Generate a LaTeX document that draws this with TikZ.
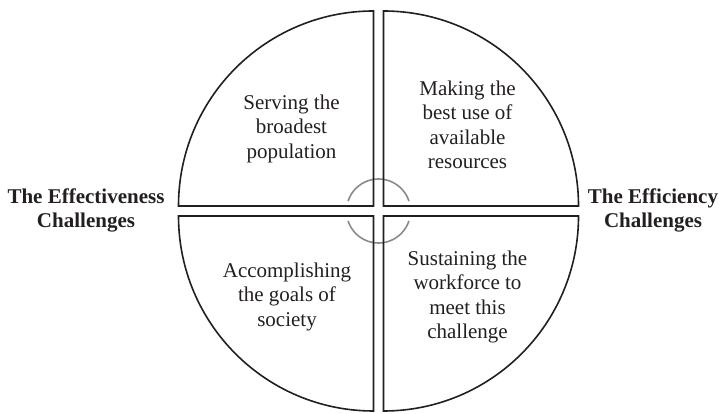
\documentclass[tikz,border=0pt]{standalone}
\usepackage{fontspec}
\setmainfont{Liberation Serif}
\usetikzlibrary{math}
\usetikzlibrary{calc}
\definecolor{inkgray}{HTML}{231F20}
\definecolor{ringgray}{HTML}{8A8A8A}

\begin{document}
\begin{tikzpicture}[x=1pt,y=1pt,line width=1.6pt,
  quarter/.style={draw=inkgray,line join=miter},
  blocktext/.style={align=center,text=inkgray,font=\fontsize{21}{24.5}\selectfont},
  sidetext/.style={align=center,text=inkgray,font=\fontsize{21}{24}\selectfont\bfseries}]

  \tikzmath{
    \radius = 195;   % radius of each quarter
    \gap    = 5;     % half width of the cross between the quarters
    \ring   = 32;    % radius of the gray arcs
    \degs   = 18;    % where the gray arcs start
    \cx     = 378.5; % centre of the circle
    \cy     = 203;
  }

  \useasboundingbox (0,0) rectangle (719,414);

  % corners of the four quarters
  \coordinate (O)  at (\cx, \cy);
  \coordinate (NE) at (\cx+\gap, \cy+\gap);
  \coordinate (NW) at (\cx-\gap, \cy+\gap);
  \coordinate (SW) at (\cx-\gap, \cy-\gap);
  \coordinate (SE) at (\cx+\gap, \cy-\gap);

  % gray arcs round the centre
  \draw[ringgray] ($ (O) + (\degs:\ring) $) arc (\degs:180-\degs:\ring);
  \draw[ringgray] ($ (O) + (180+\degs:\ring) $) arc (180+\degs:360-\degs:\ring);

  % the four quarters
  \draw[quarter] (NE) -- ++(\radius,0) arc (0:90:\radius) -- cycle;
  \draw[quarter] (NW) -- ++(0,\radius) arc (90:180:\radius) -- cycle;
  \draw[quarter] (SW) -- ++(-\radius,0) arc (180:270:\radius) -- cycle;
  \draw[quarter] (SE) -- ++(0,-\radius) arc (270:360:\radius) -- cycle;

  % texts in the quarters
  \node[blocktext] (serving)  at (291.5, 285.5) {Serving the\\broadest\\population};
  \node[blocktext] (making)   at (467.5, 289)   {Making the\\best use of\\available\\resources};
  \node[blocktext] (goals)    at (287, 117.5)   {Accomplishing\\the goals of\\society};
  \node[blocktext] (sustain)  at (467.5, 117)   {Sustaining the\\workforce to\\meet this\\challenge};

  % side labels
  \node[sidetext] (effective) at (86, 203.5)  {The Effectiveness\\Challenges};
  \node[sidetext] (efficient) at (653, 203.5) {The Efficiency\\Challenges};

\end{tikzpicture}
\end{document}
